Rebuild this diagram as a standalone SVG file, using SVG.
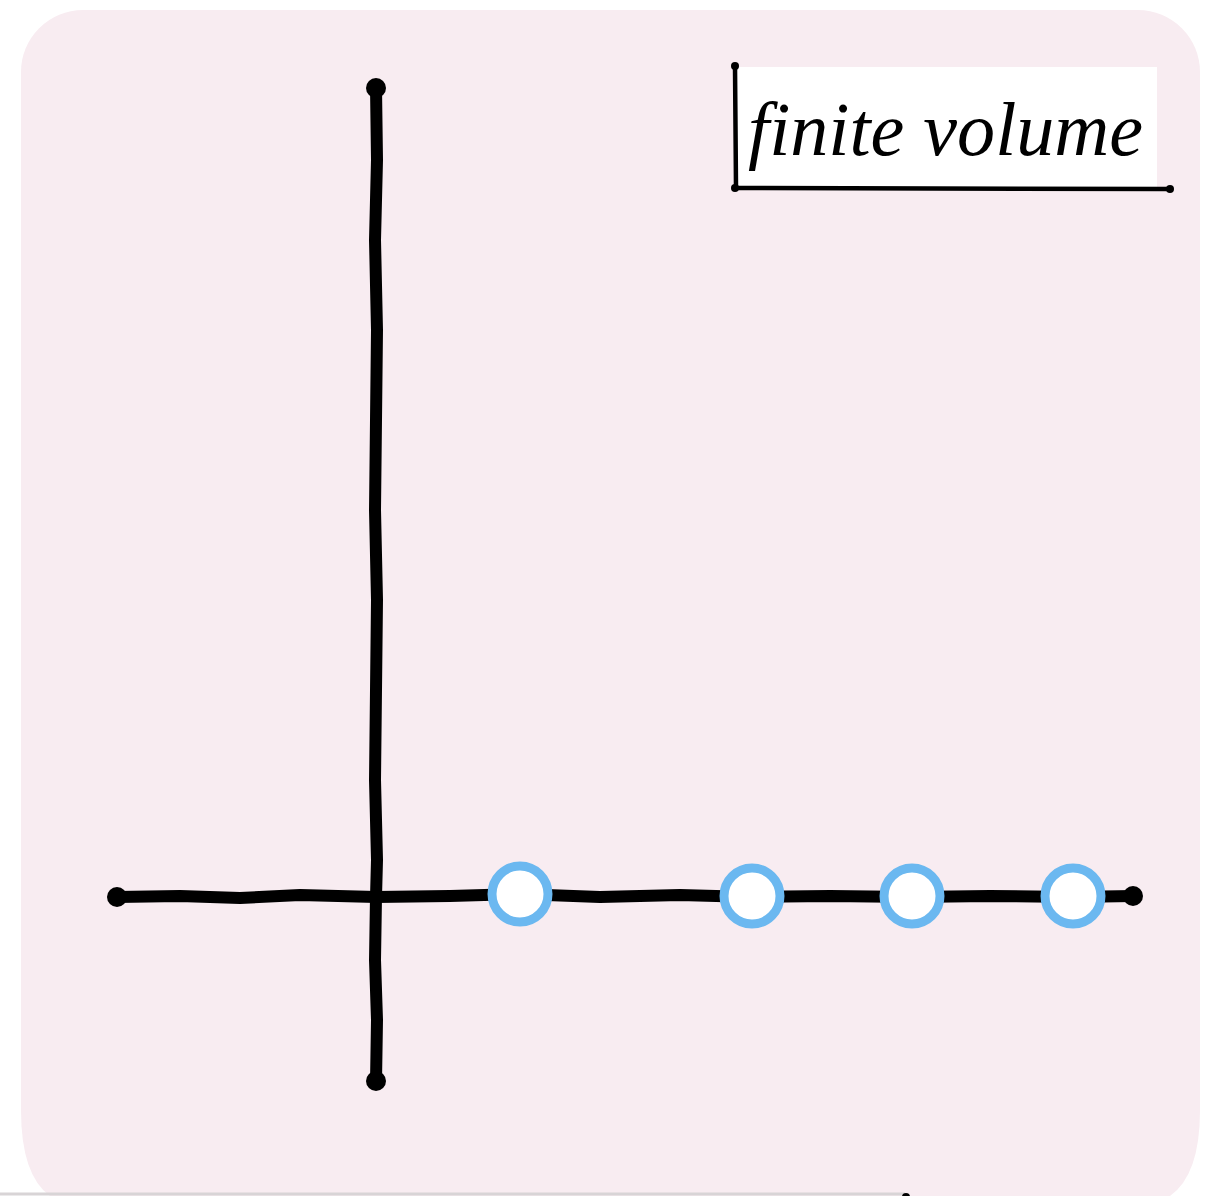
<svg xmlns="http://www.w3.org/2000/svg" width="1223" height="1196" viewBox="0 0 1223 1196">
  <defs>
    <style>
      .axis { fill: none; stroke: #000; stroke-width: 12; stroke-linecap: round; stroke-linejoin: round; }
      .cap { fill: #000; }
      .pt { fill: #fff; stroke: #6BB8F0; stroke-width: 9; }
      .frame { fill: none; stroke: #000; stroke-width: 4.5; stroke-linecap: round; }
      .lbl { font-family: "Liberation Serif", "DejaVu Serif", serif; font-style: italic; font-size: 76px; fill: #000; }
    </style>
  </defs>
  <rect x="0" y="0" width="1223" height="1196" fill="#ffffff"/>
  <path id="panel" d="M83,10 H1138 A62,62 0 0 1 1200,72 V1110 Q1200,1175 1170,1196 H50 Q21,1175 21,1110 V72 A62,62 0 0 1 83,10 Z" fill="#F8ECF1"/>
  <line x1="0" y1="1194" x2="905" y2="1194" stroke="#d8d4d6" stroke-width="3"/>
  <circle cx="906" cy="1197" r="4" fill="#000"/>

  <g id="connectors">
    <path id="x-axis" class="axis" d="M117,897 L180,896 L240,898 L300,895 L376,897 L450,896 L520,894 L600,897 L680,895 L752,897 L830,896 L912,897 L990,896 L1073,897 L1133,896"/>
    <path id="y-axis" class="axis" d="M376,87 L377,160 L375,240 L377,330 L376,420 L375,510 L377,600 L376,690 L375,780 L377,860 L376,897 L375,960 L377,1020 L376,1082"/>
    <circle class="cap" cx="117" cy="897" r="10"/>
    <circle class="cap" cx="1133" cy="896" r="10"/>
    <circle class="cap" cx="376" cy="88" r="10"/>
    <circle class="cap" cx="376" cy="1081" r="10"/>
  </g>

  <g id="p1"><circle class="pt" cx="520" cy="894" r="28"/></g>
  <g id="p2"><circle class="pt" cx="752" cy="896" r="28"/></g>
  <g id="p3"><circle class="pt" cx="912" cy="896" r="28"/></g>
  <g id="p4"><circle class="pt" cx="1073" cy="896" r="28"/></g>

  <g id="label">
    <rect x="735" y="67" width="422" height="121" fill="#ffffff"/>
    <path class="frame" d="M735,66 L736,188"/>
    <path class="frame" d="M735,188 L1170,189"/>
    <circle class="cap" cx="735" cy="66" r="4"/>
    <circle class="cap" cx="735" cy="188" r="4"/>
    <circle class="cap" cx="1170" cy="189" r="4"/>
    <text class="lbl" x="748" y="155" textLength="395" lengthAdjust="spacingAndGlyphs">finite volume</text>
  </g>
</svg>
